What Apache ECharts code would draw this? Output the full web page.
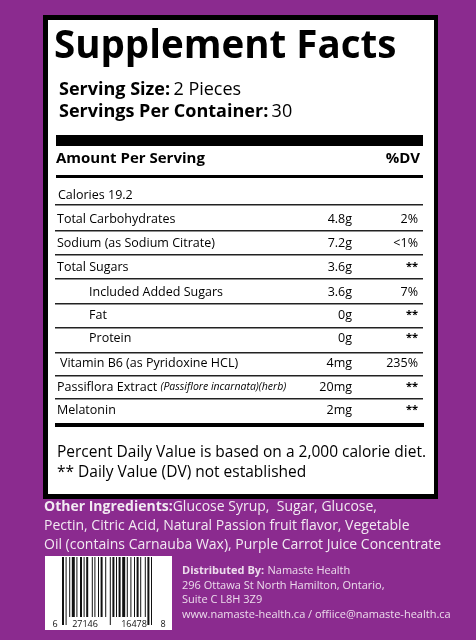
<!DOCTYPE html>
<html><head><meta charset="utf-8">
<script src="https://cdn.jsdelivr.net/npm/echarts@6/dist/echarts.min.js"></script>
<style>html,body{margin:0;padding:0;background:#8b2b8f}#c{width:476px;height:640px}</style>
</head><body><div id="c"></div>
<script>
var nutrients = ["Total Carbohydrates","Sodium (as Sodium Citrate)","Total Sugars","Included Added Sugars","Fat","Protein","Vitamin B6 (as Pyridoxine HCL)","Passiflora Extract","Melatonin"];
var amounts = ["4.8g","7.2g","3.6g","3.6g","0g","0g","4mg","20mg","2mg"];
var dv = ["2%","<1%","**","7%","**","**","235%","**","**"];
var indent = [0,0,0,1,1,1,0,0,0];
var barcodeDigits = ["6","27146","16478","8"];
var barPattern = [2,1,1,2,1,1,3,1,1,2,2,1,1,1,2,3,1,1,1,2,1,1,2,2,1,3,1,1,2,1,1,1,2,1,3,1,1,2,1,2,1,1,2,1,1,3,1,1,2,1,1,1];

var F = '"Open Sans", sans-serif';
var g = [];
g.push({type:'rect',shape:{x:43,y:15,width:395,height:484},style:{fill:'#000'}});
g.push({type:'rect',shape:{x:48,y:20,width:386,height:474},style:{fill:'#fff'}});
function txt(x,y,t,size,weight,align,fill,style){g.push({type:'text',x:x,y:y,style:{text:t,font:(style||'normal')+' '+(weight||'normal')+' '+size+'px '+F,fill:fill||'#000',textAlign:align||'left',textVerticalAlign:'middle'}});}
function rect(x,y,w,h,f){g.push({type:'rect',shape:{x:x,y:y,width:w,height:h},style:{fill:f||'#000'}});}
g.push({type:'text',x:54,y:47,style:{rich:{a:{font:'bold 38.5px '+F,fill:'#000'}},text:'{a|Supplement Facts}',textVerticalAlign:'middle'}});
g.push({type:'text',x:59,y:90,style:{text:'{b|Serving Size:} {n|2 Pieces}',rich:{b:{font:'bold 18px '+F,fill:'#000'},n:{font:'18px '+F,fill:'#000'}},textVerticalAlign:'middle'}});
g.push({type:'text',x:59,y:112,style:{text:'{b|Servings Per Container:} {n|30}',rich:{b:{font:'bold 18px '+F,fill:'#000'},n:{font:'18px '+F,fill:'#000'}},textVerticalAlign:'middle'}});
rect(56,135,367,11);
txt(56,159,'Amount Per Serving',15,'bold');
txt(420,159,'%DV',15,'bold','right');
rect(56,175,367,3);
txt(58,195,'Calories 19.2',12.5);
var lineY=[204,230,254,278,303,327,352,375,398];
var rowY=[219,243,267,292,315,338,363,387,410];
for(var i=0;i<lineY.length;i++) rect(55,lineY[i],368,1.5,'#222');
for(var i=0;i<nutrients.length;i++){
  var x = indent[i]?89:57;
  if(i===7){
    g.push({type:'text',x:57,y:rowY[i],style:{text:'{n|'+nutrients[i]+' }{s|(Passiflore incarnata)(herb)}',rich:{n:{font:'12.5px '+F,fill:'#000'},s:{font:'italic 10.5px '+F,fill:'#000'}},textVerticalAlign:'middle'}});
  } else txt(i===6?60:x,rowY[i],nutrients[i],12.5);
  txt(352,rowY[i],amounts[i],12.5,'normal','right');
  txt(418,rowY[i],dv[i],dv[i]=='**'?11:12.5,dv[i]=='**'?'bold':'normal','right');
}
rect(55,423,369,4);
txt(57,453,'Percent Daily Value is based on a 2,000 calorie diet.',15.5);
txt(57,473,'** Daily Value (DV) not established',15.5);
g.push({type:'text',x:44,y:507,style:{text:'{b|Other Ingredients:}{n|Glucose Syrup,  Sugar, Glucose,}',rich:{b:{font:'bold 14px '+F,fill:'#f2eaf2'},n:{font:'14px '+F,fill:'#f2eaf2'}},textVerticalAlign:'middle'}});
txt(44,526,'Pectin, Citric Acid, Natural Passion fruit flavor, Vegetable',14,'normal','left','#f2eaf2');
txt(44,545,'Oil (contains Carnauba Wax), Purple Carrot Juice Concentrate',14,'normal','left','#f2eaf2');
rect(45,556,127,74,'#fff');
var bx=62;
for(var i=0;i<barPattern.length;i++){
  if(i%2===0){var long=(i<4||i>barPattern.length-5||(i>24&&i<28));rect(bx,557,barPattern[i],long?68:60,'#111');}
  bx+=barPattern[i]*1.0+ (i%2?0.6:0);
}
txt(55,624,barcodeDigits[0],9,'normal','center','#111');
txt(85,624,barcodeDigits[1],9,'normal','center','#111');
txt(134,624,barcodeDigits[2],9,'normal','center','#111');
txt(163,624,barcodeDigits[3],9,'normal','center','#111');
g.push({type:'text',x:182,y:571,style:{text:'{b|Distributed By:} {n|Namaste Health}',rich:{b:{font:'bold 11px '+F,fill:'#ecdcec'},n:{font:'11px '+F,fill:'#ecdcec'}},textVerticalAlign:'middle'}});
txt(182,586,'296 Ottawa St North Hamilton, Ontario,',11,'normal','left','#ecdcec');
txt(182,600,'Suite C L8H 3Z9',11,'normal','left','#ecdcec');
txt(182,615,'www.namaste-health.ca / offiice@namaste-health.ca',11,'normal','left','#ecdcec');
var chart=echarts.init(document.getElementById('c'));
chart.setOption({backgroundColor:'#8b2b8f',graphic:g});
</script></body></html>
